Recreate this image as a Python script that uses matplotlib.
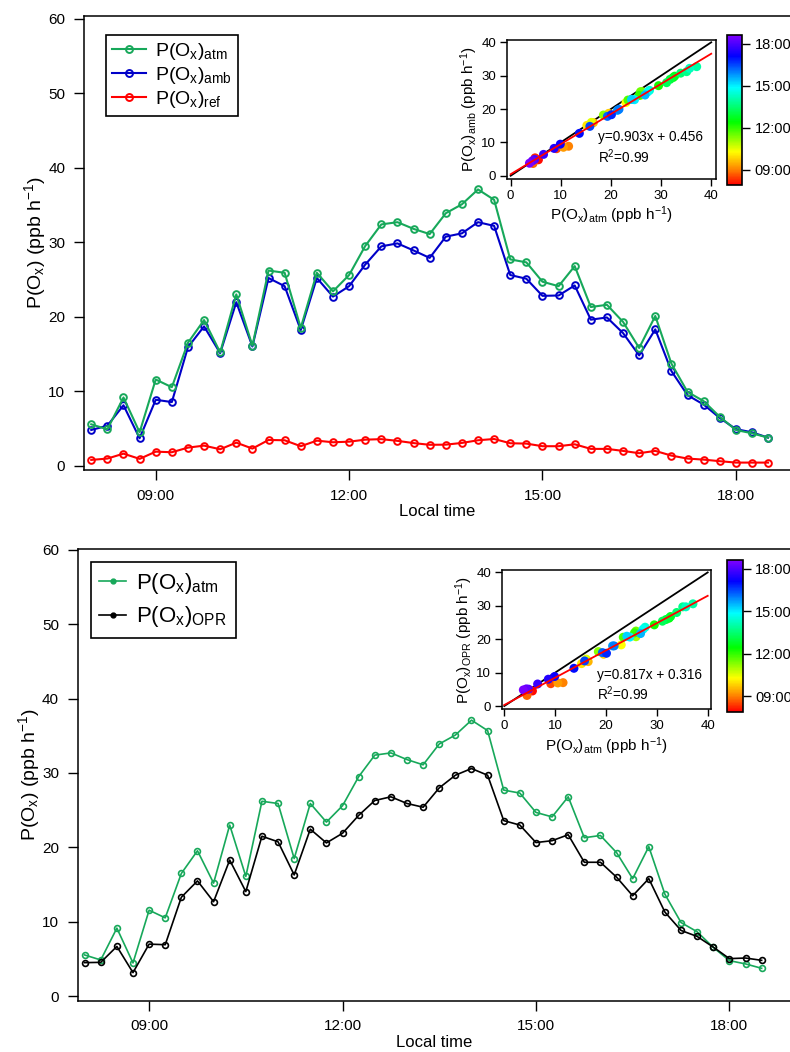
import matplotlib
matplotlib.use("Agg")
import matplotlib.pyplot as plt
import numpy as np
from matplotlib.colors import LinearSegmentedColormap
from matplotlib.lines import Line2D

plt.rcParams["font.family"] = ["Liberation Sans", "DejaVu Sans"]
plt.rcParams["mathtext.fontset"] = "custom"
plt.rcParams["mathtext.rm"] = "Liberation Sans"
plt.rcParams["mathtext.it"] = "Liberation Sans:italic"
plt.rcParams["mathtext.bf"] = "Liberation Sans:bold"
plt.rcParams["mathtext.default"] = "regular"

# 15-min local times
times = [
    "08:00", "08:15", "08:30", "08:45", "09:00", "09:15", "09:30", "09:45",
    "10:00", "10:15", "10:30", "10:45", "11:00", "11:15", "11:30", "11:45",
    "12:00", "12:15", "12:30", "12:45", "13:00", "13:15", "13:30", "13:45",
    "14:00", "14:15", "14:30", "14:45", "15:00", "15:15", "15:30", "15:45",
    "16:00", "16:15", "16:30", "16:45", "17:00", "17:15", "17:30", "17:45",
    "18:00", "18:15", "18:30",
]
p_atm = [5.54, 4.87, 9.15, 4.47, 11.56, 10.53, 16.5, 19.55, 15.2, 23.0,
         16.1, 26.2, 25.9, 18.5, 25.9, 23.4, 25.6, 29.5, 32.4, 32.7,
         31.8, 31.1, 33.9, 35.1, 37.1, 35.7, 27.7, 27.3, 24.7, 24.1,
         26.8, 21.3, 21.6, 19.3, 15.8, 20.1, 13.7, 9.9, 8.66, 6.56,
         4.78, 4.34, 3.75]
p_amb = [4.78, 5.36, 8.1, 3.67, 8.84, 8.53, 15.9, 18.7, 15.1, 21.95,
         16.0, 25.2, 24.1, 18.2, 25.2, 22.7, 24.1, 27.0, 29.45, 29.85,
         28.9, 27.9, 30.75, 31.2, 32.7, 32.2, 25.6, 25.1, 22.8, 22.85,
         24.2, 19.6, 19.9, 17.8, 14.8, 18.3, 12.7, 9.46, 8.2, 6.4,
         4.9, 4.47, 3.75]
p_ref = [0.76, 0.94, 1.6, 0.9, 1.87, 1.79, 2.41, 2.68, 2.19, 3.08,
         2.28, 3.44, 3.4, 2.6, 3.35, 3.13, 3.21, 3.48, 3.55, 3.32,
         3.02, 2.79, 2.81, 3.04, 3.4, 3.57, 3.0, 2.95, 2.6, 2.6,
         2.86, 2.24, 2.24, 1.97, 1.66, 1.97, 1.34, 0.94, 0.8, 0.59,
         0.4, 0.4, 0.4]
p_opr = [4.51, 4.55, 6.69, 3.17, 7.0, 6.92, 13.3, 15.5, 12.7, 18.3,
         14.06, 21.5, 20.75, 16.3, 22.45, 20.6, 21.9, 24.3, 26.3, 26.8,
         25.9, 25.4, 28.0, 29.7, 30.6, 29.7, 23.6, 23.0, 20.65, 20.9,
         21.7, 18.0, 18.0, 16.0, 13.5, 15.8, 11.3, 8.84, 8.03, 6.6,
         5.05, 5.13, 4.82]

fit_amb = (0.903, 0.456)
fit_opr = (0.817, 0.316)
r2_text = "R$^2$=0.99"

hour_ticks = [9, 12, 15, 18]
hour_labels = ["09:00", "12:00", "15:00", "18:00"]

hours = np.array([int(t[:2]) + int(t[3:]) / 60 for t in times])

GREEN = "#17a85a"
BLUE = "#0000c8"
RED = "#ff0000"

cmap = LinearSegmentedColormap.from_list(
    "igor_rainbow",
    [(0.0, "#ff0000"), (0.1, "#ff8000"), (0.22, "#ffff00"), (0.42, "#00ff00"),
     (0.65, "#00ffff"), (0.86, "#0000ff"), (1.0, "#8000ff")],
)

fig = plt.figure(figsize=(7.9, 10.52), dpi=100)

units = "(ppb h$^{-1}$)"


def style_main(ax, xlim, ylim):
    ax.set_xlim(*xlim)
    ax.set_ylim(*ylim)
    ax.spines["right"].set_visible(False)
    for s in ("left", "bottom", "top"):
        ax.spines[s].set_linewidth(1.1)
    ax.set_xticks(hour_ticks)
    ax.set_xticklabels(hour_labels)
    ax.set_yticks([0, 10, 20, 30, 40, 50, 60])
    ax.tick_params(direction="out", length=7.5, width=1.0, labelsize=11, pad=6)
    ax.set_xlabel("Local time", fontsize=12, labelpad=1)
    ax.set_ylabel("P(O$_x$) " + units, fontsize=14, labelpad=0)


def inset(rect, cbrect, x, y, fit, ylab, xlim, ylim, txt_xy):
    ax = fig.add_axes(rect)
    rng = np.array([0, 40])
    ax.plot(rng, rng, color="black", lw=1.3, zorder=2)
    sc = ax.scatter(x, y, c=hours, cmap=cmap, vmin=7.9, vmax=18.62, s=42,
                    edgecolors="none", zorder=3)
    ax.plot(rng, fit[0] * rng + fit[1], color="red", lw=1.3, zorder=4)
    ax.set_xlim(*xlim)
    ax.set_ylim(*ylim)
    ax.set_xticks([0, 10, 20, 30, 40])
    ax.set_yticks([0, 10, 20, 30, 40])
    ax.tick_params(direction="out", length=5, width=1.0, labelsize=9.5, pad=3)
    for s in ax.spines.values():
        s.set_linewidth(1.1)
    ax.set_xlabel("P(O$_x$)$_{atm}$ " + units, fontsize=11, labelpad=2)
    ax.set_ylabel(ylab + " " + units, fontsize=11, labelpad=1)
    ax.text(txt_xy[0], txt_xy[1], "y=%.3fx + %.3f" % fit, fontsize=9.8,
            va="center", ha="left")
    ax.text(txt_xy[0], txt_xy[2], r2_text, fontsize=9.8, va="center", ha="left")
    cax = fig.add_axes(cbrect)
    cb = fig.colorbar(sc, cax=cax, ticks=hour_ticks)
    cb.ax.set_yticklabels(hour_labels)
    cb.outline.set_linewidth(1.2)
    cb.ax.tick_params(direction="out", length=6, width=1.0, labelsize=10.5, pad=3)


# ---- top panel ----
ax1 = fig.add_axes([0.1063, 0.5532, 0.8937, 0.4316])
ax1.plot(hours, p_ref, color=RED, lw=1.5, marker="o", ms=4.8, mfc="none",
         mew=1.4, zorder=2)
ax1.plot(hours, p_amb, color=BLUE, lw=1.5, marker="o", ms=4.8, mfc="none",
         mew=1.4, zorder=3)
ax1.plot(hours, p_atm, color=GREEN, lw=1.5, marker="o", ms=4.8, mfc="none",
         mew=1.4, zorder=4)
style_main(ax1, (7.887, 18.84), (-0.6, 60.4))
h1 = [Line2D([], [], color=c, lw=1.5, marker="o", ms=5, mfc="none", mew=1.4)
      for c in (GREEN, BLUE, RED)]
leg1 = ax1.legend(h1, ["P(O$_x$)$_{atm}$", "P(O$_x$)$_{amb}$", "P(O$_x$)$_{ref}$"],
                  loc="upper left", bbox_to_anchor=(0.031, 0.958),
                  borderaxespad=0, fontsize=14, handlelength=1.75,
                  handletextpad=0.5, labelspacing=0.15, borderpad=0.3,
                  fancybox=False, framealpha=1, edgecolor="black")
leg1.get_frame().set_linewidth(1.2)

inset([0.6422, 0.8301, 0.2638, 0.1319], [0.9199, 0.8241, 0.0198, 0.1426],
      p_atm, p_amb, fit_amb, "P(O$_x$)$_{amb}$", (-0.66, 40.9), (-0.9, 40.7),
      (17.4, 11.7, 5.7))

# ---- bottom panel ----
ax2 = fig.add_axes([0.0984, 0.0488, 0.9016, 0.4293])
ax2.plot(hours, p_atm, color=GREEN, lw=1.2, marker="o", ms=4.2, mfc="none",
         mew=1.2, zorder=3)
ax2.plot(hours, p_opr, color="black", lw=1.2, marker="o", ms=4.2, mfc="none",
         mew=1.2, zorder=4)
style_main(ax2, (7.893, 18.94), (-0.6, 60.1))
h2 = [Line2D([], [], color=c, lw=1.2, marker="o", ms=3.5) for c in (GREEN, "black")]
leg2 = ax2.legend(h2, ["P(O$_x$)$_{atm}$", "P(O$_x$)$_{OPR}$"],
                  loc="upper left", bbox_to_anchor=(0.018, 0.972),
                  borderaxespad=0, fontsize=16, handlelength=1.2,
                  handletextpad=0.45, labelspacing=0.4, borderpad=0.4,
                  fancybox=False, framealpha=1, edgecolor="black")
leg2.get_frame().set_linewidth(1.2)

inset([0.6358, 0.3260, 0.2642, 0.1321], [0.9199, 0.3235, 0.0203, 0.1442],
      p_atm, p_opr, fit_opr, "P(O$_x$)$_{OPR}$", (-0.39, 40.65), (-0.9, 40.7),
      (18.2, 9.3, 3.6))

fig.savefig("out.png", dpi=100)
